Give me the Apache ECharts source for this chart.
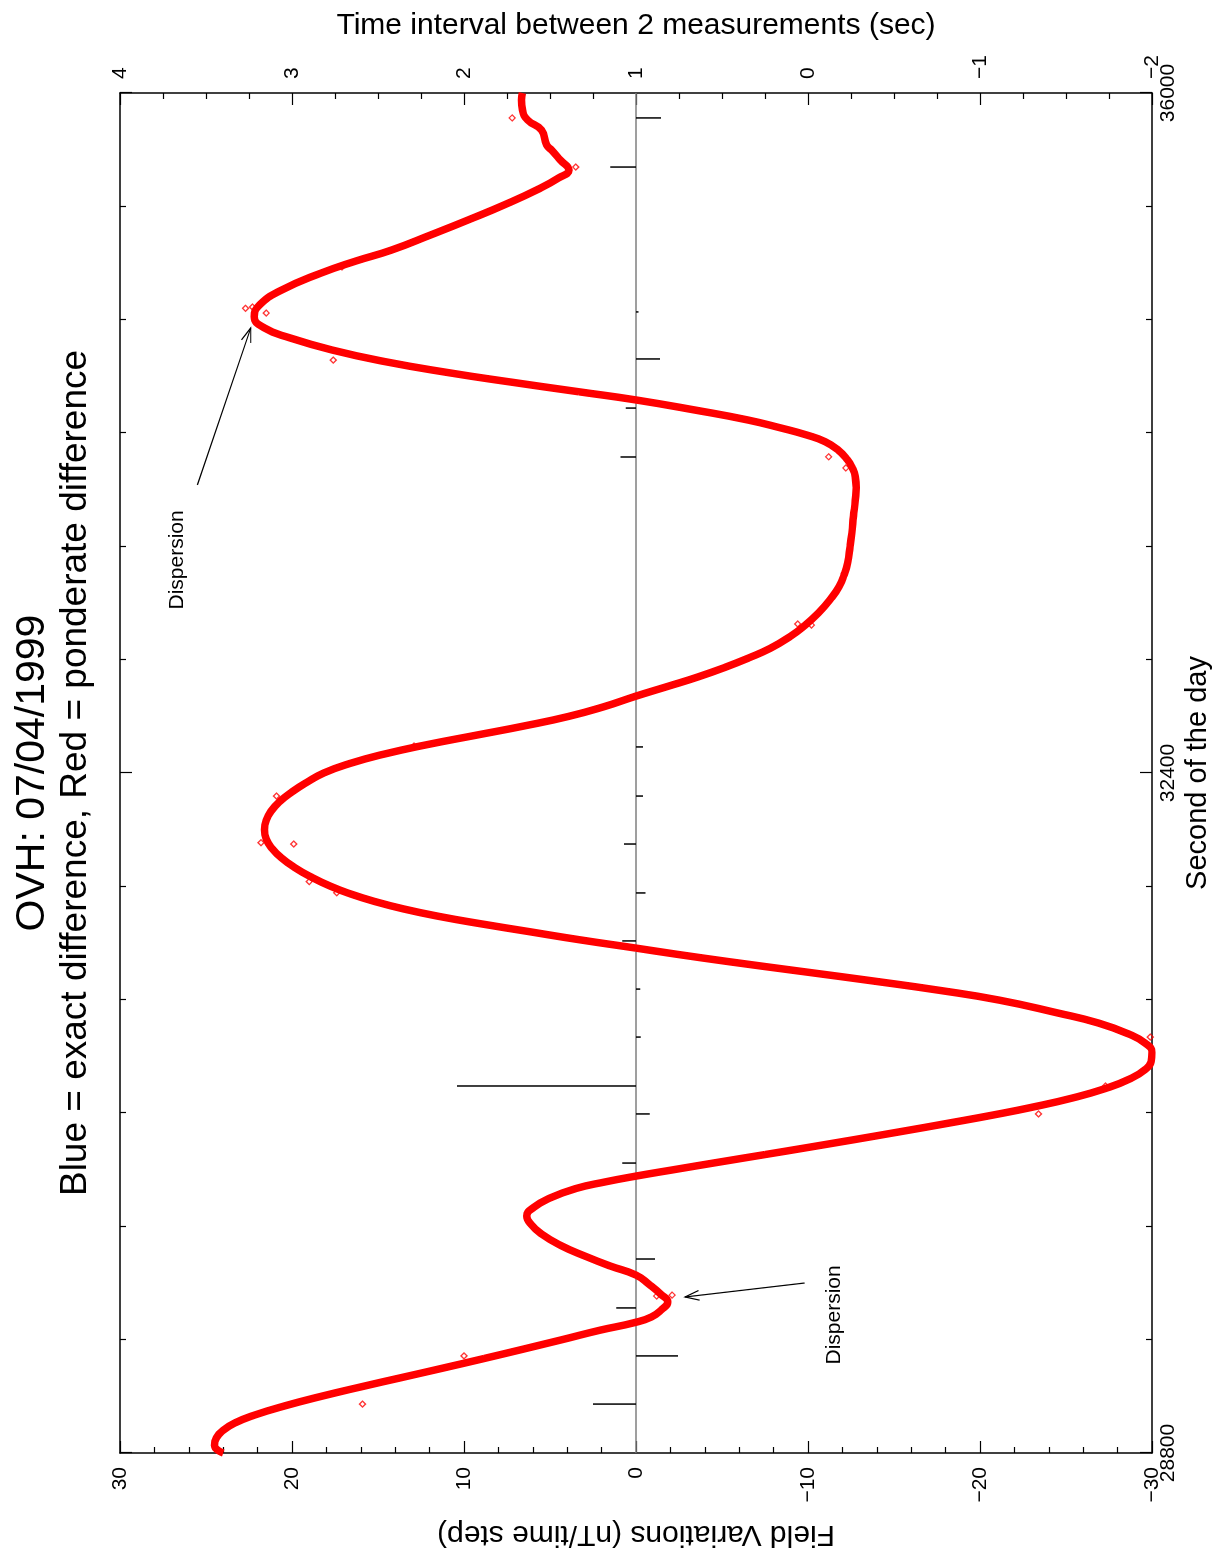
<!DOCTYPE html>
<html><head><meta charset="utf-8">
<script src="https://cdn.jsdelivr.net/npm/echarts@6/dist/echarts.min.js"></script>
<style>
html,body{margin:0;padding:0;overflow:hidden;background:#fff;width:1226px;height:1558px;}
#wrap{position:absolute;left:0;top:0;width:1558px;height:1226px;transform-origin:0 0;transform:translateY(1558px) rotate(-90deg);background:#fff;}
</style></head><body><div id="wrap"></div>
<script>
// ---- data ----
const curveSeconds = [28800,28840,28880,28920,28960,29000,29050,29100,29150,29200,29250,29300,29350,29400,29450,29490,
  29520,29560,29600,29640,29690,29742,29790,29840,29900,29960,30010,30055,30100,30150,30200,30235,30266,30300,30335,30380,30420,30460,30500,30550,30590,30630,30680,30730,30780,30830,30872,30920,30970,31020,31076,31130,31198,31250,31300,31350,31400,31440,31473,31516,31560,31600,31640,31680,31720,31760,31800,31850,31900,31950,32000,32050,32100,32150,32200,32250,32300,32350,32400,32450,32500,32550,32600,32650,32700,32750,32807,32860,32910,32960,33009,33060,33122,33180,33247,33320,33386,33450,33512,33600,33670,33760,33845,33910,33969,34020,34057,34110,34154,34190,34226,34269,34322,34375,34418,34470,34518,34578,34639,34703,34756,34816,34877,34957,35047,35110,35169,35250,35330,35410,35490,35550,35592,35645,35697,35725,35804,35857,35910,35963,36000];
const curveField = [24.0,24.5,24.4,24.0,23.3,22.2,20.4,18.3,16.0,13.6,11.2,8.85,6.55,4.3,2.1,0.1,
  -0.9,-1.5,-1.85,-1.45,-0.8,0.0,1.5,2.9,4.4,5.5,6.1,6.35,5.95,5.0,3.5,1.8,0.0,-2.2,-4.5,-7.5,-10.15,-12.75,-15.3,-18.4,-20.8,-23.0,-25.4,-27.3,-28.7,-29.6,-29.95,-30.0,-29.6,-28.6,-26.9,-24.5,-21.1,-17.6,-13.7,-9.6,-5.5,-2.4,0.0,3.2,6.2,8.9,11.4,13.5,15.2,16.6,17.75,18.9,19.85,20.6,21.15,21.5,21.6,21.5,21.2,20.7,20.0,19.15,18.15,16.65,14.65,12.15,9.3,6.45,3.9,1.9,0.0,-1.9,-3.65,-5.2,-6.55,-7.8,-8.95,-9.8,-10.6,-11.3,-11.8,-12.1,-12.3,-12.45,-12.55,-12.65,-12.75,-12.8,-12.75,-12.55,-12.3,-11.75,-11.0,-9.9,-8.45,-6.5,-3.4,0.0,3.3,7.3,10.8,14.6,17.65,20.1,21.6,22.2,21.9,20.6,18.3,16.3,14.2,11.9,9.7,7.6,5.7,4.5,3.9,4.4,4.9,5.2,5.5,6.3,6.6,6.65,6.6];
const outlierSeconds = [29059,29314,29631,29636,30595,30743,31002,31766,31825,32024,32031,32278,32543,33183,33189,34015,34074,34586,34835,34860,34867,35079,35608,35868];
const outlierField = [15.9,10.0,-1.2,-2.1,-23.4,-27.3,-29.9,17.4,19.0,19.9,21.8,20.9,12.9,-10.2,-9.4,-12.2,-11.2,17.6,21.5,22.7,22.3,17.1,3.5,7.2];
const intervalSeconds = [29059,29314,29568,29827,30335,30595,30743,31002,31256,31511,31765,32024,32278,32538,34073,34332,34592,34841,35608,35868];
const intervalValues = [1.25,0.756,1.115,0.89,1.08,0.92,2.04,0.973,0.975,1.08,0.945,1.07,0.96,0.96,1.09,1.06,0.86,0.985,1.15,0.855];
const intervalBase = 1;
const annotationText = ['Dispersion','Dispersion'];
const annotationAt = [[29531,-11.5],[33528,26.7]];
const arrowFrom = [[29700,-9.8],[33925,25.5]];
const arrowTo = [[29626,-2.85],[34756,22.4]];
const titleText = 'OVH: 07/04/1999';
const subtitleText = 'Blue = exact difference, Red = ponderate difference';

// ---- build ----
const FONT = '"Liberation Sans", Arial, Helvetica, sans-serif';
const minus = v => String(v).replace('-', '\u2212');
const chart = echarts.init(document.getElementById('wrap'), null, {width:1558, height:1226});
const curveData = curveSeconds.map((t,i)=>[t, curveField[i]]);
const outlierData = outlierSeconds.map((t,i)=>[t, outlierField[i]]);
const intervalData = intervalSeconds.map((t,i)=>[t, intervalValues[i]]);
const arrowData = arrowFrom.map((a,i)=>[a[0],a[1],arrowTo[i][0],arrowTo[i][1]]);
const annData = annotationAt.map((a,i)=>[a[0],a[1]]);

const axisLineStyle = {show:true, onZero:false, lineStyle:{color:'#000', width:1.5}};
const tick = {show:true, inside:true, length:12, lineStyle:{color:'#000', width:1.2}};
const minor = n => ({show:true, splitNumber:n, length:6, lineStyle:{color:'#000', width:1.2}});
const lbl = (m) => ({color:'#000', fontSize:21, fontFamily:FONT, margin:m, formatter:minus, showMinLabel:true, showMaxLabel:true});

chart.setOption({
  animation:false,
  backgroundColor:'#fff',
  graphic:[
    {type:'text', x:785, y:33, style:{text:titleText, font:'41px '+FONT, fill:'#000', textAlign:'center', textVerticalAlign:'middle', align:'center', verticalAlign:'middle'}},
    {type:'text', x:785, y:76, style:{text:subtitleText, font:'37px '+FONT, fill:'#000', textAlign:'center', textVerticalAlign:'middle', align:'center', verticalAlign:'middle'}}
  ],
  grid:{left:105, right:93, top:120, bottom:74, containLabel:false},
  xAxis:[
    {type:'value', position:'bottom', min:28800, max:36000, interval:3600,
     name:'Second of the day', nameLocation:'middle', nameGap:31,
     nameTextStyle:{color:'#000', fontSize:29, fontFamily:FONT},
     axisLine:axisLineStyle, axisTick:tick, minorTick:minor(6), splitLine:{show:false}, minorSplitLine:{show:false},
     axisLabel:lbl(6)},
    {type:'value', position:'top', min:28800, max:36000, interval:3600,
     axisLine:axisLineStyle, axisTick:tick, minorTick:minor(6), splitLine:{show:false},
     axisLabel:{show:false}}
  ],
  yAxis:[
    {type:'value', position:'left', min:-30, max:30, interval:10,
     name:'Field Variations (nT/time step)', nameLocation:'middle', nameRotate:90, nameGap:66,
     nameTextStyle:{color:'#000', fontSize:30, fontFamily:FONT},
     axisLine:axisLineStyle, axisTick:tick, minorTick:minor(5), splitLine:{show:false},
     axisLabel:lbl(14)},
    {type:'value', position:'right', min:-2, max:4, interval:1,
     name:'Time interval between 2 measurements (sec)', nameLocation:'middle', nameRotate:-90, nameGap:52,
     nameTextStyle:{color:'#000', fontSize:30, fontFamily:FONT},
     axisLine:axisLineStyle, axisTick:tick, minorTick:minor(4), splitLine:{show:false},
     axisLabel:lbl(14)}
  ],
  series:[
    {type:'custom', name:'Time interval', xAxisIndex:0, yAxisIndex:1, data:intervalData,
     encode:{x:0, y:1}, z:3,
     renderItem:(params, api)=>{
       const p0 = api.coord([api.value(0), intervalBase]);
       const p1 = api.coord([api.value(0), api.value(1)]);
       return {type:'line', shape:{x1:p0[0], y1:p0[1], x2:p1[0], y2:p1[1]}, style:{stroke:'#000', lineWidth:1.5}};
     }},
    {type:'line', name:'Red = ponderate difference', xAxisIndex:0, yAxisIndex:0, data:curveData,
     showSymbol:false, smooth:0.5, z:4,
     lineStyle:{color:'#ff0000', width:7.5}, itemStyle:{color:'#ff0000'},
     markLine:{silent:true, symbol:['none','none'], label:{show:false}, z:2,
       lineStyle:{color:'#7f7f7f', width:1.7, type:'solid'}, data:[{yAxis:0}]}},
    {type:'scatter', name:'outliers', xAxisIndex:0, yAxisIndex:0, data:outlierData,
     symbol:'diamond', symbolSize:6, z:5,
     itemStyle:{color:'rgba(255,255,255,0)', borderColor:'#ff0000', borderWidth:1.3}},
    {type:'custom', name:'arrows', xAxisIndex:0, yAxisIndex:0, data:arrowData,
     encode:{x:[0,2], y:[1,3]}, z:6,
     renderItem:(params, api)=>{
       const a = api.coord([api.value(0), api.value(1)]);
       const b = api.coord([api.value(2), api.value(3)]);
       const ang = Math.atan2(b[1]-a[1], b[0]-a[0]);
       const L = 15, w = 0.33;
       const h1 = [b[0]-L*Math.cos(ang-w), b[1]-L*Math.sin(ang-w)];
       const h2 = [b[0]-L*Math.cos(ang+w), b[1]-L*Math.sin(ang+w)];
       return {type:'group', children:[
         {type:'line', shape:{x1:a[0], y1:a[1], x2:b[0], y2:b[1]}, style:{stroke:'#000', lineWidth:1.2}},
         {type:'polyline', shape:{points:[h1,b,h2]}, style:{stroke:'#000', lineWidth:1.2, fill:null}}
       ]};
     }},
    {type:'custom', name:'annotations', xAxisIndex:0, yAxisIndex:0, data:annData,
     encode:{x:0, y:1}, z:6,
     renderItem:(params, api)=>{
       const p = api.coord([api.value(0), api.value(1)]);
       return {type:'text', x:p[0], y:p[1], style:{text:annotationText[params.dataIndex], font:'21px '+FONT, fill:'#000',
         textAlign:'center', textVerticalAlign:'middle', align:'center', verticalAlign:'middle'}};
     }}
  ]
});
</script></body></html>
